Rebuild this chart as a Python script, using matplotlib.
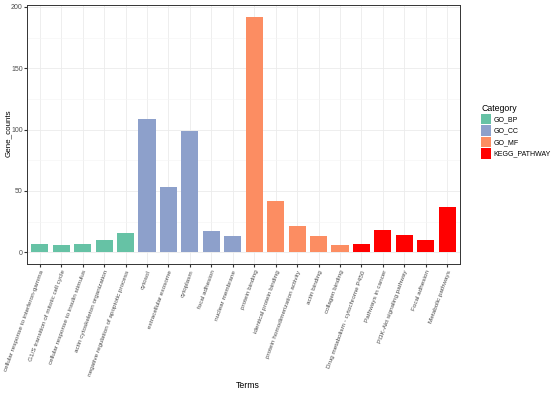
import numpy as np
import matplotlib.pyplot as plt
from matplotlib.patches import Patch

plt.rcParams['font.family'] = ['Liberation Sans', 'DejaVu Sans']

# Datos
terms = [
    "cellular response to interferon-gamma",
    "G1/S transition of mitotic cell cycle",
    "cellular response to insulin stimulus",
    "actin cytoskeleton organization",
    "negative regulation of apoptotic process",
    "cytosol",
    "extracellular exosome",
    "cytoplasm",
    "focal adhesion",
    "nuclear membrane",
    "protein binding",
    "identical protein binding",
    "protein homodimerization activity",
    "actin binding",
    "collagen binding",
    "Drug metabolism - cytochrome P450",
    "Pathways in cancer",
    "PI3K-Akt signaling pathway",
    "Focal adhesion",
    "Metabolic pathways",
]
gene_counts = [7, 6, 7, 10, 16, 109, 53, 99, 17, 13, 192, 42, 21, 13, 6, 7, 18, 14, 10, 37]
category = ["GO_BP"] * 5 + ["GO_CC"] * 5 + ["GO_MF"] * 5 + ["KEGG_PATHWAY"] * 5
cat_names = ["GO_BP", "GO_CC", "GO_MF", "KEGG_PATHWAY"]
cat_colors = {"GO_BP": "#66C2A5", "GO_CC": "#8DA0CB", "GO_MF": "#FC8D62", "KEGG_PATHWAY": "#FF0000"}

fig = plt.figure(figsize=(5.56, 3.95), dpi=100)
ax = fig.add_axes([27 / 556, 1 - 264 / 395, 433 / 556, 259 / 395])

x = np.arange(1, len(terms) + 1)
ax.bar(x, gene_counts, width=0.8, color=[cat_colors[c] for c in category], zorder=3)

ax.set_xlim(0.4, len(terms) + 0.6)
ax.set_ylim(-9.6, 201.6)
ax.set_xticks(x)
ax.set_xticklabels(terms, rotation=70, ha="right", va="top", rotation_mode="anchor",
                   fontsize=4.6, color="#4D4D4D")
ax.set_yticks([0, 50, 100, 150, 200])
ax.set_yticks([25, 75, 125, 175], minor=True)
ax.tick_params(axis="y", labelsize=5, labelcolor="#4D4D4D", length=2, color="#333333", pad=1)
ax.tick_params(axis="y", which="minor", length=0)
ax.tick_params(axis="x", length=2, color="#333333", pad=2)

ax.grid(True, which="major", color="#EBEBEB", linewidth=0.6, zorder=0)
ax.grid(True, which="minor", axis="y", color="#F4F4F4", linewidth=0.4, zorder=0)
for s in ax.spines.values():
    s.set_color("#333333")
    s.set_linewidth(0.7)

fig.text(8 / 556, 1 - 133 / 395, "Gene_counts", rotation=90, fontsize=5.8,
         ha="center", va="center")
fig.text(248 / 556, 1 - 386 / 395, "Terms", fontsize=6.3, ha="center", va="center")

handles = [Patch(facecolor=cat_colors[c], edgecolor="none") for c in cat_names]
leg = fig.legend(handles, cat_names, title="Category", loc="upper left",
                 bbox_to_anchor=(481 / 556, 1 - 104 / 395), frameon=False,
                 fontsize=5, title_fontsize=6.3, handlelength=1.45, handleheight=2.0,
                 handletextpad=0.4, labelspacing=0.1, borderaxespad=0, borderpad=0)
leg._legend_box.align = "left"

fig.savefig("out.png", dpi=100)
